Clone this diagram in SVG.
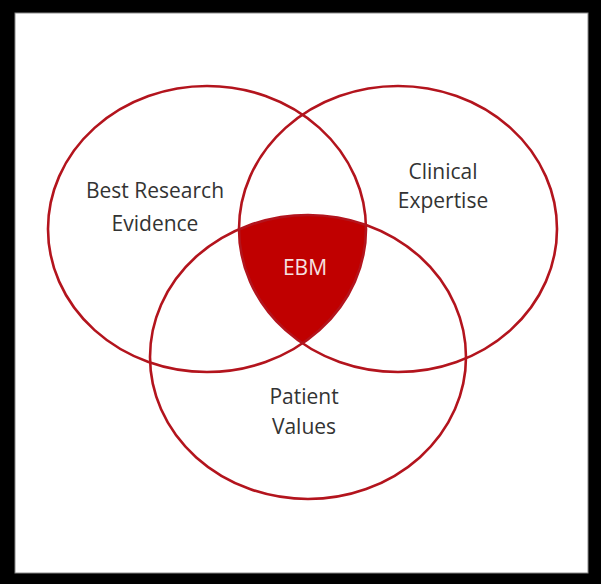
<svg xmlns="http://www.w3.org/2000/svg" width="601" height="584" viewBox="0 0 601 584">
  <style>
    .ring { fill: none; stroke: #b3141d; stroke-width: 2.6; }
    .lbl { font-family: "Open Sans", "Liberation Sans", sans-serif; font-size: 21px; fill: #333333; text-anchor: middle; }
    .core { font-family: "Open Sans", "Liberation Sans", sans-serif; font-size: 21px; fill: #f6e2e2; text-anchor: middle; }
  </style>
  <rect x="0" y="0" width="601" height="584" fill="#000"/>
  <rect x="15" y="13" width="573" height="560" fill="#fff" stroke="#8a8a8a" stroke-width="1"/>
  <g id="ebm">
    <path d="M 239,229.3 A 158 142 0 0 1 366,225 A 159 143 0 0 1 302.5,343.3 A 159 143 0 0 1 239,229.3 Z" fill="#c00000"/>
  </g>
  <g id="research">
    <ellipse class="ring" cx="207" cy="229" rx="159" ry="143"/>
    <text class="lbl" x="155" y="198">Best Research</text>
    <text class="lbl" x="155" y="231">Evidence</text>
  </g>
  <g id="clinical">
    <ellipse class="ring" cx="398" cy="229" rx="159" ry="143"/>
    <text class="lbl" x="443" y="179">Clinical</text>
    <text class="lbl" x="443" y="208">Expertise</text>
  </g>
  <g id="patient">
    <ellipse class="ring" cx="308" cy="357" rx="158" ry="142"/>
    <text class="lbl" x="304" y="404">Patient</text>
    <text class="lbl" x="304" y="434">Values</text>
  </g>
  <g id="ebm-label">
    <text class="core" x="305" y="275">EBM</text>
  </g>
</svg>
